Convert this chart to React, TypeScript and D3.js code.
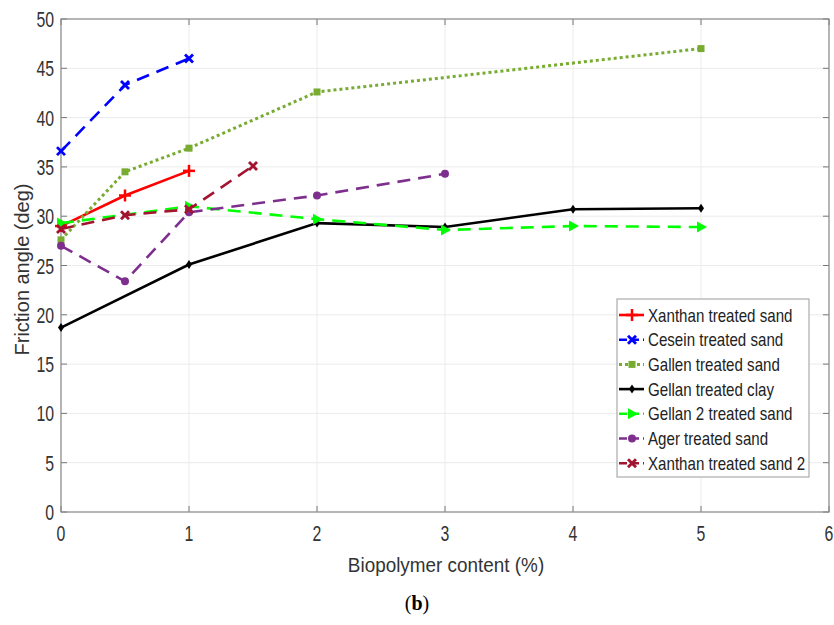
import React from "react";
import * as d3 from "d3";

const seriesNames = [
  "Xanthan treated sand",
  "Cesein treated sand",
  "Gallen treated sand",
  "Gellan treated clay",
  "Gellan 2 treated sand",
  "Ager treated sand",
  "Xanthan treated sand 2",
];

const xanthanX = [0, 0.5, 1];
const xanthanY = [29.0, 32.1, 34.6];
const ceseinX = [0, 0.5, 1];
const ceseinY = [36.6, 43.3, 46.0];
const gallenX = [0, 0.5, 1, 2, 5];
const gallenY = [27.6, 34.5, 36.9, 42.6, 47.0];
const gellanClayX = [0, 1, 2, 3, 4, 5];
const gellanClayY = [18.7, 25.1, 29.3, 28.9, 30.7, 30.8];
const gellan2X = [0, 1, 2, 3, 4, 5];
const gellan2Y = [29.3, 31.0, 29.7, 28.6, 29.0, 28.9];
const agerX = [0, 0.5, 1, 2, 3];
const agerY = [27.0, 23.4, 30.4, 32.1, 34.3];
const xanthan2X = [0, 0.5, 1, 1.5];
const xanthan2Y = [28.7, 30.1, 30.7, 35.1];

const xTicks = [0, 1, 2, 3, 4, 5, 6];
const yTicks = [0, 5, 10, 15, 20, 25, 30, 35, 40, 45, 50];

type Marker = "plus" | "x" | "square" | "diamond" | "triangle" | "circle";
const styles: { color: string; dash: string; marker: Marker }[] = [
  { color: "#FF0000", dash: "", marker: "plus" },
  { color: "#0000FF", dash: "13,8", marker: "x" },
  { color: "#77AC30", dash: "3,3", marker: "square" },
  { color: "#000000", dash: "", marker: "diamond" },
  { color: "#00FF00", dash: "13,8", marker: "triangle" },
  { color: "#7E2F8E", dash: "13,8", marker: "circle" },
  { color: "#A2142F", dash: "13,8", marker: "x" },
];

const seriesX = [xanthanX, ceseinX, gallenX, gellanClayX, gellan2X, agerX, xanthan2X];
const seriesY = [xanthanY, ceseinY, gallenY, gellanClayY, gellan2Y, agerY, xanthan2Y];

const font = "'Liberation Sans', Arial, sans-serif";

function CText({
  x,
  y,
  size,
  sx,
  anchor,
  rotate,
  fill,
  children,
}: {
  x: number;
  y: number;
  size: number;
  sx: number;
  anchor?: "start" | "middle" | "end";
  rotate?: number;
  fill?: string;
  children: React.ReactNode;
}) {
  return (
    <g transform={`translate(${x},${y})${rotate ? ` rotate(${rotate})` : ""} scale(${sx},1)`}>
      <text x={0} y={0} fontFamily={font} fontSize={size} textAnchor={anchor || "start"} fill={fill || "#333"}>
        {children}
      </text>
    </g>
  );
}

function MarkerShape({ type, x, y, color }: { type: Marker; x: number; y: number; color: string }) {
  switch (type) {
    case "plus":
      return (
        <g stroke={color} strokeWidth={2.5}>
          <line x1={x - 6} y1={y} x2={x + 6} y2={y} />
          <line x1={x} y1={y - 6} x2={x} y2={y + 6} />
        </g>
      );
    case "x":
      return (
        <g stroke={color} strokeWidth={2.8}>
          <line x1={x - 4} y1={y - 4} x2={x + 4} y2={y + 4} />
          <line x1={x - 4} y1={y + 4} x2={x + 4} y2={y - 4} />
        </g>
      );
    case "square":
      return <rect x={x - 3.5} y={y - 3.5} width={7} height={7} fill={color} />;
    case "diamond":
      return <path d={`M${x},${y - 4.5}L${x + 3},${y}L${x},${y + 4.5}L${x - 3},${y}Z`} fill={color} />;
    case "triangle":
      return <path d={`M${x - 4},${y - 5.5}L${x + 6},${y}L${x - 4},${y + 5.5}Z`} fill={color} />;
    case "circle":
      return <circle cx={x} cy={y} r={4} fill={color} />;
  }
}

export default function App() {
  const W = 834;
  const H = 625;
  const left = 61;
  const right = 829;
  const top = 19;
  const bottom = 512;
  const x = d3.scaleLinear().domain([0, 6]).range([left, right]);
  const y = d3.scaleLinear().domain([0, 50]).range([bottom, top]);

  const line = d3
    .line<[number, number]>()
    .x((d) => x(d[0]))
    .y((d) => y(d[1]));

  const legX = 617;
  const legY = 299;
  const legW = 192;
  const legH = 178;
  const rowH = 24.7;

  return (
    <svg width={W} height={H} style={{ position: "absolute", left: 0, top: 0, background: "#fff" }}>
      <rect x={0} y={0} width={W} height={H} fill="#fff" />
      {/* grid */}
      <g stroke="#ebebeb" strokeWidth={1}>
        {xTicks.map((t) => (
          <line key={"gx" + t} x1={x(t)} x2={x(t)} y1={top} y2={bottom} />
        ))}
        {yTicks.map((t) => (
          <line key={"gy" + t} x1={left} x2={right} y1={y(t)} y2={y(t)} />
        ))}
      </g>
      {/* ticks */}
      <g stroke="#777" strokeWidth={1}>
        {xTicks.map((t) => (
          <g key={"tx" + t}>
            <line x1={x(t)} x2={x(t)} y1={bottom} y2={bottom - 6} />
            <line x1={x(t)} x2={x(t)} y1={top} y2={top + 6} />
          </g>
        ))}
        {yTicks.map((t) => (
          <g key={"ty" + t}>
            <line x1={left} x2={left + 6} y1={y(t)} y2={y(t)} />
            <line x1={right} x2={right - 6} y1={y(t)} y2={y(t)} />
          </g>
        ))}
      </g>
      <rect x={left} y={top} width={right - left} height={bottom - top} fill="none" stroke="#8a8a8a" strokeWidth={1.2} />
      {/* tick labels */}
      {xTicks.map((t) => (
        <CText key={"lx" + t} x={x(t)} y={bottom + 29} size={22} sx={0.72} anchor="middle">
          {t}
        </CText>
      ))}
      {yTicks.map((t) => (
        <CText key={"ly" + t} x={left - 7} y={y(t) + 8} size={22} sx={0.72} anchor="end">
          {t}
        </CText>
      ))}
      <CText x={446} y={572} size={21} sx={0.9} anchor="middle">
        Biopolymer content (%)
      </CText>
      <CText x={29} y={(top + bottom) / 2 + 4} size={21} sx={0.95} anchor="middle" rotate={-90}>
        Friction angle (deg)
      </CText>
      {/* series */}
      {seriesX.map((xs, i) => {
        const pts = xs.map((v, j) => [v, seriesY[i][j]] as [number, number]);
        const s = styles[i];
        return (
          <g key={"s" + i}>
            <path
              d={line(pts) || ""}
              fill="none"
              stroke={s.color}
              strokeWidth={s.dash === "3,3" ? 3 : 2.6}
              strokeDasharray={s.dash || undefined}
            />
            {pts.map((p, j) => (
              <MarkerShape key={j} type={s.marker} x={x(p[0])} y={y(p[1])} color={s.color} />
            ))}
          </g>
        );
      })}
      {/* legend */}
      <rect x={legX} y={legY} width={legW} height={legH} fill="#fff" stroke="#9a9a9a" strokeWidth={1} />
      {seriesNames.map((name, i) => {
        const s = styles[i];
        const cy = legY + 16 + i * rowH;
        return (
          <g key={"leg" + i}>
            <line
              x1={legX + 2}
              x2={legX + 27}
              y1={cy}
              y2={cy}
              stroke={s.color}
              strokeWidth={s.dash === "3,3" ? 3 : 2.6}
              strokeDasharray={s.dash === "3,3" ? "3,3" : s.dash ? "8,4" : undefined}
            />
            <MarkerShape type={s.marker} x={legX + 15} y={cy} color={s.color} />
            <CText x={legX + 31} y={cy + 6.5} size={18} sx={0.84} fill="#222">
              {name}
            </CText>
          </g>
        );
      })}
      <text x={417} y={610} textAnchor="middle" fontFamily="'Liberation Serif', 'Times New Roman', serif" fontSize={20} fill="#000">
        (<tspan fontWeight="bold">b</tspan>)
      </text>
    </svg>
  );
}
